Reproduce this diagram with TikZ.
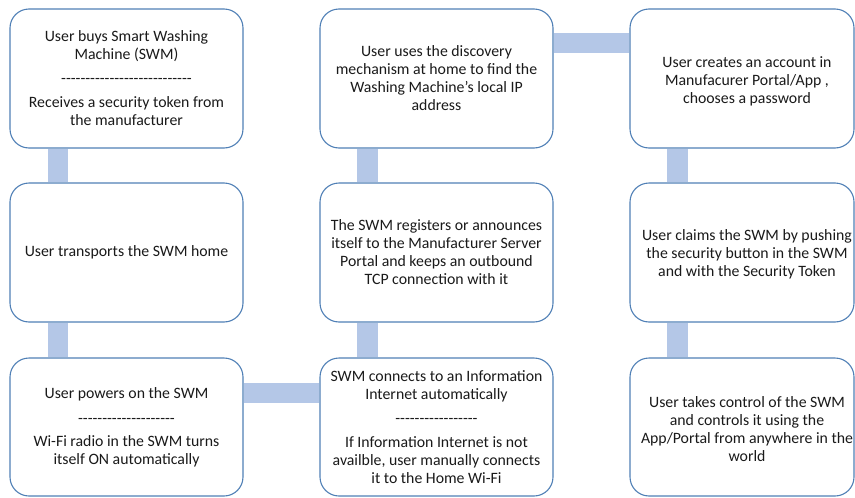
\documentclass[tikz,border=0pt]{standalone}
\usepackage{fontspec}
\setmainfont{Carlito}
\usetikzlibrary{backgrounds}
\definecolor{edgeblue}{HTML}{5080B6}
\definecolor{barblue}{HTML}{B4C7E7}
\definecolor{ink}{HTML}{1A1A1A}
% a run of separate hyphens (no ligatures between them)
\newcommand\hyrun[1]{\foreach \i in {1,...,#1}{-}}
\tikzset{
  stepbox/.style={draw=edgeblue, line width=1.1pt, fill=white,
    rounded corners=19pt, minimum width=233pt, minimum height=139pt,
    inner sep=2pt, align=center, text=ink,
    font=\fontsize{15.8}{18}\selectfont},
  steptext/.style={inner sep=0pt, align=center, text=ink,
    font=\fontsize{15.8}{18}\selectfont},
  bar/.style={draw=barblue, line width=20.5pt}
}
\begin{document}
\begin{tikzpicture}[x=1pt,y=-1pt]
\useasboundingbox (0,0) rectangle (855,498);

% column 1
\node[stepbox] (buy) at (126.5,78.5)
  {User buys Smart Washing\\Machine (SWM)\\[6pt]\hyrun{27}\\[6pt]Receives a security token from\\the manufacturer};
\node[stepbox] (home) at (126.5,252.5)
  {User transports the SWM home};
\node[stepbox, minimum height=138pt] (power) at (126.5,427)
  {User powers on the SWM\\[7pt]\hyrun{20}\\[5pt]Wi-Fi radio in the SWM turns\\itself ON automatically};

% column 2
\node[stepbox] (discover) at (436.5,78.5)
  {User uses the discovery\\mechanism at home to find the\\Washing Machine’s local IP\\address};
\node[stepbox] (register) at (436.5,252.5)
  {The SWM registers or announces\\itself to the Manufacturer Server\\Portal and keeps an outbound\\TCP connection with it};
\node[stepbox, minimum height=138pt] (connect) at (436.5,427)
  {SWM connects to an Information\\Internet automatically\\[6pt]\hyrun{17}\\[6pt]If Information Internet is not\\availble, user manually connects\\it to the Home Wi-Fi};

% column 3: boxes run to the right edge, texts sit a little right of centre
\node[stepbox, minimum width=224pt] (account) at (742,78.5) {};
\node[stepbox, minimum width=224pt] (claim) at (742,252.5) {};
\node[stepbox, minimum width=224pt, minimum height=138pt] (control) at (742,427) {};
\node[steptext] (accountText) at ([xshift=5pt,yshift=-3pt]account.center)
  {User creates an account in\\Manufacurer Portal/App ,\\chooses a password};
\node[steptext] (claimText) at ([xshift=5pt,yshift=-2pt]claim.center)
  {User claims the SWM by pushing\\the security button in the SWM\\and with the Security Token};
\node[steptext] (controlText) at ([xshift=5pt,yshift=-2pt]control.center)
  {User takes control of the SWM\\and controls it using the\\App/Portal from anywhere in the\\world};

% connecting bars behind the boxes
\begin{scope}[on background layer]
  \draw[bar] ([xshift=-68.5pt]buy.south) -- ([xshift=-68.5pt]home.north);
  \draw[bar] ([xshift=-68.5pt]home.south) -- ([xshift=-68.5pt]power.north);
  \draw[bar] ([yshift=34pt]power.east) -- ([yshift=34pt]power.east -| connect.west);
  \draw[bar] ([xshift=-69pt]connect.north) -- ([xshift=-69pt]register.south);
  \draw[bar] ([xshift=-69pt]register.north) -- ([xshift=-69pt]discover.south);
  \draw[bar] ([yshift=35.5pt]discover.east) -- ([yshift=35.5pt]discover.east -| account.west);
  \draw[bar] ([xshift=-64.5pt]account.south) -- ([xshift=-64.5pt]claim.north);
  \draw[bar] ([xshift=-64.5pt]claim.south) -- ([xshift=-64.5pt]control.north);
\end{scope}
\end{tikzpicture}
\end{document}
